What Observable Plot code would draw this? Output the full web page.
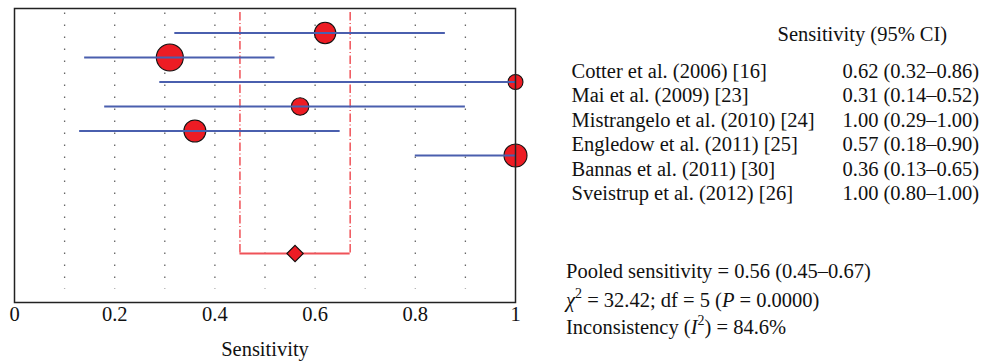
<!DOCTYPE html>
<html>
<head>
<meta charset="utf-8">
<script src="https://cdn.jsdelivr.net/npm/d3@7"></script>
<script src="https://cdn.jsdelivr.net/npm/@observablehq/plot@0.6"></script>
<style>
  html, body { margin: 0; padding: 0; background: #fff; }
</style>
</head>
<body>
<div id="chart"></div>
<script>
// ---- data ----
const studies = [
  "Cotter et al. (2006) [16]",
  "Mai et al. (2009) [23]",
  "Mistrangelo et al. (2010) [24]",
  "Engledow et al. (2011) [25]",
  "Bannas et al. (2011) [30]",
  "Sveistrup et al. (2012) [26]"
];
const sensitivity = [0.62, 0.31, 1.00, 0.57, 0.36, 1.00];
const ciLow = [0.32, 0.14, 0.29, 0.18, 0.13, 0.80];
const ciHigh = [0.86, 0.52, 1.00, 0.90, 0.65, 1.00];
const weights = [16.7, 26.7, 8.2, 11.3, 17.7, 19.4];   // relative study weights (marker area)
const pooledEst = 0.56, pooledLow = 0.45, pooledHigh = 0.67;
const chiSquare = 32.42, dfValue = 5, pValue = "0.0000", inconsistency = 84.6;
const xTicks = [0, 0.2, 0.4, 0.6, 0.8, 1];
const gridTicks = [0.1, 0.2, 0.3, 0.4, 0.5, 0.6, 0.7, 0.8, 0.9];
const headerText = "Sensitivity (95% CI)";
const axisLabel = "Sensitivity";

// rows: studies on rows 1..6, pooled estimate on row 10
const pooledRow = 10;
const rows = studies.map((s, i) => ({
  study: s,
  row: i + 1,
  est: sensitivity[i],
  lo: ciLow[i],
  hi: ciHigh[i],
  w: weights[i],
  label: `${sensitivity[i].toFixed(2)} (${ciLow[i].toFixed(2)}–${ciHigh[i].toFixed(2)})`
}));
const pooled = [{est: pooledEst, lo: pooledLow, hi: pooledHigh, row: pooledRow}];

const red = "#ed1c24";
const redLine = "#ef5258";
const blue = "#4a5fae";

const chart = Plot.plot({
  width: 984,
  height: 364,
  marginLeft: 14,
  marginRight: 469,
  marginTop: 8,
  marginBottom: 62,
  style: {fontFamily: "'Liberation Serif', 'Times New Roman', serif", fontSize: "20.5px", background: "#fff", color: "#111"},
  x: {domain: [0, 1], ticks: xTicks, tickSize: 0, tickPadding: 4, tickFormat: d => String(d), label: null},
  y: {domain: [0, 12], reverse: true, axis: null},
  r: {type: "sqrt", domain: [0, 26.7], range: [0, 13.5]},
  marks: [
    // dotted vertical gridlines
    Plot.ruleX(gridTicks, {stroke: "#666", strokeWidth: 1.3, strokeDasharray: "1.5,10.5", insetTop: 4.5, insetBottom: 13}),
    // pooled CI dash-dot verticals
    Plot.ruleX(pooled, {x: "lo", y1: 0, y2: "row", stroke: redLine, strokeWidth: 1.5, strokeDasharray: "8.5,2.5,1,2.5", insetTop: 4}),
    Plot.ruleX(pooled, {x: "hi", y1: 0, y2: "row", stroke: redLine, strokeWidth: 1.5, strokeDasharray: "8.5,2.5,1,2.5", insetTop: 4}),
    // pooled horizontal
    Plot.ruleY(pooled, {y: "row", x1: "lo", x2: "hi", stroke: redLine, strokeWidth: 1.8}),
    // study markers
    Plot.dot(rows, {x: "est", y: "row", r: "w", fill: red, stroke: "#111", strokeWidth: 1.1}),
    // study CIs
    Plot.ruleY(rows, {y: "row", x1: "lo", x2: "hi", stroke: blue, strokeWidth: 2}),
    // pooled diamond
    Plot.dot(pooled, {x: "est", y: "row", symbol: "diamond2", r: 7.4, fill: red, stroke: "#111", strokeWidth: 1.1}),
    // frame
    Plot.frame({stroke: "#222", strokeWidth: 1.5}),
    // axis label
    Plot.text([axisLabel], {frameAnchor: "bottom", lineAnchor: "middle", dy: 46.6, fill: "#111"}),
    // right-hand table
    Plot.text([headerText], {frameAnchor: "top-right", lineAnchor: "middle", dx: 262, dy: 25.6, textAnchor: "start", fill: "#111"}),
    Plot.text(rows, {y: "row", text: "study", frameAnchor: "right", lineAnchor: "middle", dx: 56, dy: 38.4, textAnchor: "start", fill: "#111"}),
    Plot.text(rows, {y: "row", text: "label", frameAnchor: "right", lineAnchor: "middle", dx: 327, dy: 38.4, textAnchor: "start", fill: "#111"})
  ]
});

document.getElementById("chart").appendChild(chart);

// statistics block (rich text with italics and superscripts)
const svg = d3.select(chart);
const g = svg.append("g").attr("fill", "#111").attr("font-size", 20.5).attr("text-anchor", "start");
const x0 = 566;
g.append("text").attr("x", x0).attr("y", 277.7)
  .text(`Pooled sensitivity = ${pooledEst.toFixed(2)} (${pooledLow.toFixed(2)}–${pooledHigh.toFixed(2)})`);
const t2 = g.append("text").attr("x", x0).attr("y", 306.7);
t2.append("tspan").attr("font-style", "italic").text("χ");
t2.append("tspan").attr("font-size", 14).attr("dy", -9).text("2");
t2.append("tspan").attr("dy", 9).text(` = ${chiSquare.toFixed(2)}; df = ${dfValue} (`);
t2.append("tspan").attr("font-style", "italic").text("P");
t2.append("tspan").text(` = ${pValue})`);
const t3 = g.append("text").attr("x", x0).attr("y", 334);
t3.append("tspan").text("Inconsistency (");
t3.append("tspan").attr("font-style", "italic").text("I");
t3.append("tspan").attr("font-size", 14).attr("dy", -9).text("2");
t3.append("tspan").attr("dy", 9).text(`) = ${inconsistency.toFixed(1)}%`);
</script>
</body>
</html>
